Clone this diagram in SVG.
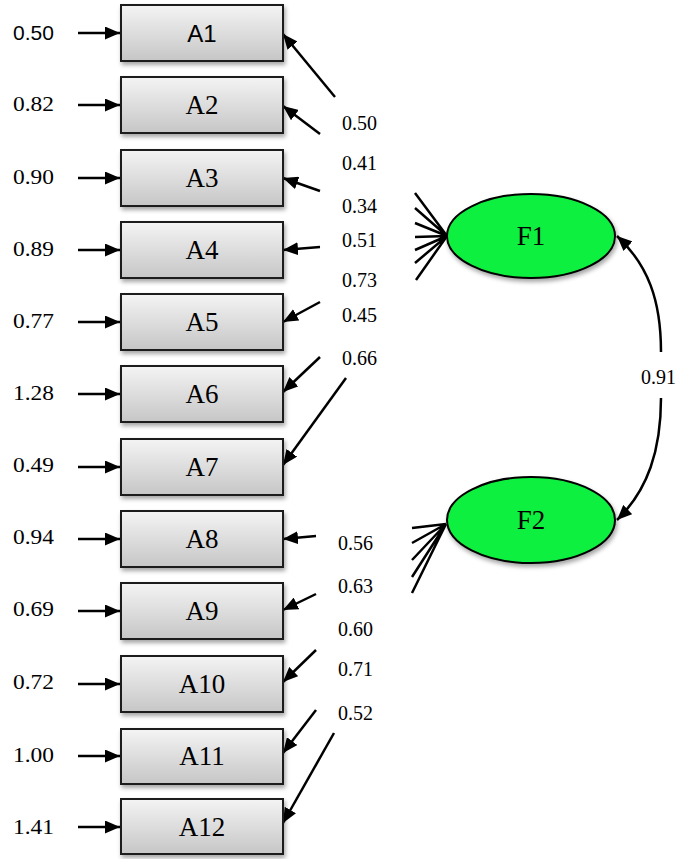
<svg xmlns="http://www.w3.org/2000/svg" width="677" height="859" viewBox="0 0 677 859">
<defs>
<linearGradient id="boxg" x1="0" y1="0" x2="0" y2="1">
<stop offset="0" stop-color="#f4f4f4"/>
<stop offset="1" stop-color="#c6c6c6"/>
</linearGradient>
<filter id="sh" x="-10%" y="-10%" width="125%" height="140%">
<feDropShadow dx="1.5" dy="3" stdDeviation="2" flood-color="#000" flood-opacity="0.35"/>
</filter>
<marker id="ah" viewBox="0 0 15 13" refX="15" refY="6.5" markerWidth="15" markerHeight="13" markerUnits="userSpaceOnUse" orient="auto">
<path d="M0,0 L15,6.5 L0,13 z" fill="#000"/>
</marker>
</defs>
<style>
.box{fill:url(#boxg);stroke:#1a1a1a;stroke-width:2;filter:url(#sh)}
.lat{fill:#10f040;stroke:#000;stroke-width:2;filter:url(#sh)}
.bl{font-family:"Liberation Serif","Times New Roman",serif;font-size:27px;fill:#000;text-anchor:middle}
.bls{font-family:"Liberation Sans",Arial,sans-serif;font-size:24px;fill:#000;text-anchor:middle}
.num{font-family:"Liberation Serif","Times New Roman",serif;font-size:21px;fill:#000}
.nums{font-family:"Liberation Sans",Arial,sans-serif;font-size:21px;fill:#000}
.rn{font-family:"Liberation Serif","Times New Roman",serif;font-size:20px;fill:#000}
.ar{stroke:#000;stroke-width:2.5;fill:none;marker-end:url(#ah)}
.ln{stroke:#000;stroke-width:2.5;fill:none}
</style>
<g id="connectors">
<line class="ar" x1="78" y1="33" x2="120" y2="33"/>
<line class="ar" x1="78" y1="105" x2="120" y2="105"/>
<line class="ar" x1="78" y1="178" x2="120" y2="178"/>
<line class="ar" x1="78" y1="250" x2="120" y2="250"/>
<line class="ar" x1="78" y1="322" x2="120" y2="322"/>
<line class="ar" x1="78" y1="394" x2="120" y2="394"/>
<line class="ar" x1="78" y1="467" x2="120" y2="467"/>
<line class="ar" x1="78" y1="539" x2="120" y2="539"/>
<line class="ar" x1="78" y1="611" x2="120" y2="611"/>
<line class="ar" x1="78" y1="684" x2="120" y2="684"/>
<line class="ar" x1="78" y1="756" x2="120" y2="756"/>
<line class="ar" x1="78" y1="827" x2="120" y2="827"/>
<line class="ar" x1="335" y1="97" x2="283" y2="34"/>
<line class="ar" x1="320" y1="134" x2="283" y2="106"/>
<line class="ar" x1="320" y1="191" x2="283" y2="178"/>
<line class="ar" x1="320" y1="247" x2="283" y2="250"/>
<line class="ar" x1="320" y1="302" x2="283" y2="322"/>
<line class="ar" x1="320" y1="357" x2="283" y2="392"/>
<line class="ar" x1="346" y1="378" x2="283" y2="465"/>
<line class="ar" x1="316" y1="536" x2="283" y2="539"/>
<line class="ar" x1="316" y1="594" x2="283" y2="610"/>
<line class="ar" x1="316" y1="650" x2="283" y2="682"/>
<line class="ar" x1="316" y1="710" x2="283" y2="753"/>
<line class="ar" x1="334" y1="733" x2="283" y2="823"/>
<path class="ln" d="M415,193 L447,236 M415,208 L447,236 M415,223 L447,236 M415,237 L447,236 M415,250 L447,236 M415,263 L447,236 M416,280 L447,236"/>
<path class="ln" d="M412,528 L446,524 M412,543 L446,524 M412,560 L446,524 M412,577 L446,524 M412,593 L446,524"/>
<path class="ar" d="M661,352 C661,300 648,265 617,236"/>
<path class="ar" d="M661,398 C661,450 648,490 617,520"/>
</g>
<g id="A1"><rect class="box" x="121" y="5" width="162" height="56"/><text class="bls" x="202" y="42">A1</text></g>
<g id="A2"><rect class="box" x="121" y="77" width="162" height="56"/><text class="bl" x="202" y="114">A2</text></g>
<g id="A3"><rect class="box" x="121" y="150" width="162" height="56"/><text class="bl" x="202" y="187">A3</text></g>
<g id="A4"><rect class="box" x="121" y="222" width="162" height="56"/><text class="bl" x="202" y="259">A4</text></g>
<g id="A5"><rect class="box" x="121" y="294" width="162" height="56"/><text class="bl" x="202" y="331">A5</text></g>
<g id="A6"><rect class="box" x="121" y="366" width="162" height="56"/><text class="bl" x="202" y="403">A6</text></g>
<g id="A7"><rect class="box" x="121" y="439" width="162" height="56"/><text class="bl" x="202" y="476">A7</text></g>
<g id="A8"><rect class="box" x="121" y="511" width="162" height="56"/><text class="bl" x="202" y="548">A8</text></g>
<g id="A9"><rect class="box" x="121" y="583" width="162" height="56"/><text class="bl" x="202" y="620">A9</text></g>
<g id="A10"><rect class="box" x="121" y="656" width="162" height="56"/><text class="bl" x="202" y="693">A10</text></g>
<g id="A11"><rect class="box" x="121" y="729" width="162" height="55"/><text class="bl" x="202" y="765">A11</text></g>
<g id="A12"><rect class="box" x="121" y="799" width="162" height="55"/><text class="bl" x="202" y="836">A12</text></g>
<g id="F1"><ellipse class="lat" cx="531" cy="236" rx="84" ry="42"/><text class="bl" x="531" y="245">F1</text></g>
<g id="F2"><ellipse class="lat" cx="531" cy="520" rx="84" ry="43"/><text class="bl" x="531" y="529">F2</text></g>
<g id="labels">
<text class="nums" x="13" y="40">0.50</text>
<text class="num" x="13" y="111" textLength="41" lengthAdjust="spacingAndGlyphs">0.82</text>
<text class="num" x="13" y="184" textLength="41" lengthAdjust="spacingAndGlyphs">0.90</text>
<text class="num" x="13" y="256" textLength="41" lengthAdjust="spacingAndGlyphs">0.89</text>
<text class="num" x="13" y="328" textLength="41" lengthAdjust="spacingAndGlyphs">0.77</text>
<text class="num" x="13" y="400" textLength="41" lengthAdjust="spacingAndGlyphs">1.28</text>
<text class="num" x="13" y="472" textLength="41" lengthAdjust="spacingAndGlyphs">0.49</text>
<text class="num" x="13" y="544" textLength="41" lengthAdjust="spacingAndGlyphs">0.94</text>
<text class="num" x="13" y="616" textLength="41" lengthAdjust="spacingAndGlyphs">0.69</text>
<text class="num" x="13" y="689" textLength="41" lengthAdjust="spacingAndGlyphs">0.72</text>
<text class="num" x="13" y="762" textLength="41" lengthAdjust="spacingAndGlyphs">1.00</text>
<text class="num" x="13" y="834" textLength="41" lengthAdjust="spacingAndGlyphs">1.41</text>
<text class="rn" x="342" y="130">0.50</text>
<text class="rn" x="342" y="170">0.41</text>
<text class="rn" x="342" y="213">0.34</text>
<text class="rn" x="342" y="247">0.51</text>
<text class="rn" x="342" y="287">0.73</text>
<text class="rn" x="342" y="322">0.45</text>
<text class="rn" x="342" y="365">0.66</text>
<text class="rn" x="338" y="550">0.56</text>
<text class="rn" x="338" y="593">0.63</text>
<text class="rn" x="338" y="636">0.60</text>
<text class="rn" x="338" y="676">0.71</text>
<text class="rn" x="338" y="720">0.52</text>
<text class="rn" x="641" y="384">0.91</text>
</g>
</svg>
